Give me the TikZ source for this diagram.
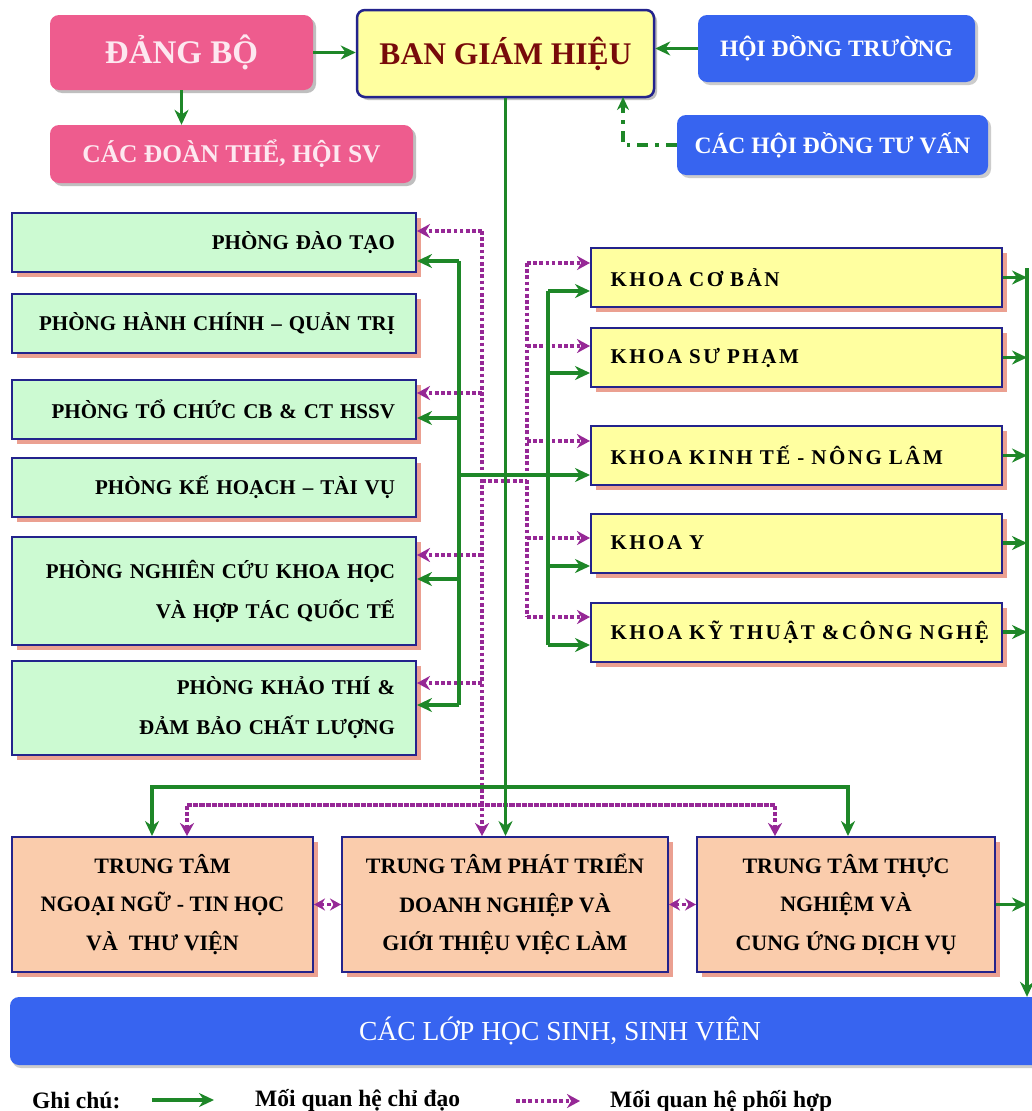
\documentclass[tikz,border=0pt]{standalone}
\usepackage{fontspec}
\setmainfont{Liberation Serif}
\usetikzlibrary{arrows.meta,shadows,calc}
\definecolor{gr}{RGB}{30,135,40}
\definecolor{pk}{RGB}{150,40,150}
\definecolor{phfill}{RGB}{204,250,210}
\definecolor{khfill}{RGB}{255,255,160}
\definecolor{ttfill}{RGB}{250,204,172}
\definecolor{bdr}{RGB}{35,35,140}
\definecolor{shd}{RGB}{235,160,145}
\definecolor{pinkbox}{RGB}{238,92,142}
\definecolor{pinktxt}{RGB}{253,232,240}
\definecolor{bluebox}{RGB}{55,100,240}
\definecolor{dred}{RGB}{120,10,10}
\begin{document}
\begin{tikzpicture}[x=1pt,y=-1pt,
  box/.style={draw=bdr, line width=2pt, inner sep=0pt,
    general shadow={fill=shd, shadow xshift=5pt, shadow yshift=-5pt}},
  phong/.style={box, fill=phfill, minimum width=404pt, text width=362pt, align=right,
    font=\bfseries\fontsize{21}{40}\selectfont},
  khoa/.style={box, fill=khfill, minimum width=411pt, minimum height=59pt, text width=372pt, align=left,
    font=\bfseries\fontsize{21}{21}\selectfont\addfontfeature{LetterSpace=12}},
  ttbox/.style={box, fill=ttfill, minimum height=135pt, align=center,
    font=\bfseries\fontsize{22}{38.5}\selectfont},
  pinkb/.style={fill=pinkbox, rounded corners=9pt, text=pinktxt, inner sep=0pt,
    general shadow={fill=black!25, shadow xshift=3pt, shadow yshift=-3pt}},
  blueb/.style={fill=bluebox, rounded corners=9pt, text=white, inner sep=0pt,
    font=\bfseries\fontsize{23.5}{23.5}\selectfont,
    general shadow={fill=black!20, shadow xshift=3pt, shadow yshift=-3pt}},
  gline/.style={draw=gr, line width=3.6pt},
  garr/.style={gline, -{Stealth[length=15pt,width=14pt]}},
  pline/.style={draw=pk, line width=3.6pt, dash pattern=on 3.6pt off 2.6pt},
  parr/.style={pline, -{Stealth[length=13pt,width=14pt]}},
  pdbl/.style={pline, {Stealth[length=11pt,width=12pt]}-{Stealth[length=11pt,width=12pt]}},
  ddash/.style={draw=gr, line width=3.6pt, dash pattern=on 11pt off 7pt on 3.6pt off 7pt, -{Stealth[length=13pt,width=12pt]}},
  legtxt/.style={anchor=west, inner sep=0pt, font=\bfseries\fontsize{23.5}{23.5}\selectfont}
]
\useasboundingbox (0,0) rectangle (1032,1111);
\fill[white] (0,0) rectangle (1032,1111);

% top
\node[pinkb, minimum width=263pt, minimum height=75pt, font=\bfseries\fontsize{33}{33}\selectfont] (dang) at (181.5,52.5) {ĐẢNG BỘ};
\node[pinkb, minimum width=363pt, minimum height=58pt, font=\bfseries\fontsize{25.5}{25.5}\selectfont] (doan) at (231.5,154) {CÁC ĐOÀN THỂ, HỘI SV};
\node[draw=bdr, line width=2.5pt, fill=khfill, rounded corners=8pt, minimum width=297pt, minimum height=87pt, inner sep=0pt, text=dred,
  font=\bfseries\fontsize{31.5}{31.5}\selectfont,
  general shadow={fill=black!25, shadow xshift=3pt, shadow yshift=-3pt}] (bgh) at (505.5,53.5) {BAN GIÁM HIỆU};
\node[blueb, minimum width=277pt, minimum height=67pt] (hdt) at (836.5,48.5) {HỘI ĐỒNG TRƯỜNG};
\node[blueb, minimum width=311pt, minimum height=60pt] (hdtv) at (832.5,145) {CÁC HỘI ĐỒNG TƯ VẤN};

% phong
\node[phong, minimum height=59pt] (p1) at (214,242.5) {PHÒNG ĐÀO TẠO};
\node[phong, minimum height=59pt] (p2) at (214,323.5) {PHÒNG HÀNH CHÍNH – QUẢN TRỊ};
\node[phong, minimum height=59pt] (p3) at (214,409.5) {PHÒNG TỔ CHỨC CB \& CT HSSV};
\node[phong, minimum height=59pt] (p4) at (214,487.5) {PHÒNG KẾ HOẠCH – TÀI VỤ};
\node[phong, minimum height=108pt] (p5) at (214,591) {PHÒNG NGHIÊN CỨU KHOA HỌC\\VÀ HỢP TÁC QUỐC TẾ};
\node[phong, minimum height=94pt] (p6) at (214,708) {PHÒNG KHẢO THÍ \&\\ĐẢM BẢO CHẤT LƯỢNG};

% khoa
\node[khoa] (k1) at (796.5,277.5) {\mbox{KHOA CƠ BẢN}};
\node[khoa] (k2) at (796.5,357.5) {\mbox{KHOA SƯ PHẠM}};
\node[khoa] (k3) at (796.5,455.5) {\mbox{KHOA KINH TẾ - NÔNG LÂM}};
\node[khoa] (k4) at (796.5,543) {\mbox{KHOA Y}};
\node[khoa] (k5) at (796.5,632) {\mbox{KHOA KỸ THUẬT \&CÔNG NGHỆ}};

% trung tam
\node[ttbox, minimum width=301pt] (t1) at (162.5,904.5) {TRUNG TÂM\\NGOẠI NGỮ - TIN HỌC\\VÀ \ THƯ VIỆN};
\node[ttbox, minimum width=326pt] (t2) at (505,904.5) {TRUNG TÂM PHÁT TRIỂN\\DOANH NGHIỆP VÀ\\GIỚI THIỆU VIỆC LÀM};
\node[ttbox, minimum width=298pt] (t3) at (846,904.5) {TRUNG TÂM THỰC\\NGHIỆM VÀ\\CUNG ỨNG DỊCH VỤ};

% bar
\node[fill=bluebox, rounded corners=9pt, minimum width=1100pt, minimum height=68pt, inner sep=0pt, text=white,
  font=\fontsize{27.5}{27.5}\selectfont,
  general shadow={fill=black!20, shadow xshift=2pt, shadow yshift=-3pt}] (bar) at (560,1031) {CÁC LỚP HỌC SINH, SINH VIÊN};

% top connectors
\draw[garr] (dang.east) -- (dang.east -| bgh.west);
\draw[garr] (dang.south) -- (dang.south |- doan.north);
\draw[garr] (hdt.west) -- (hdt.west -| bgh.east);
\coordinate (cv) at (623,97);
\draw[ddash] (hdtv.west) -| (cv);

% pink left trunk
\coordinate (pL1) at (482,231);
\coordinate (pL3) at (482,393);
\coordinate (pL5) at (482,555);
\coordinate (pL6) at (482,683);
\coordinate (pLx) at (482,481);
\draw[parr] (pL1) -- (pL1 |- t2.north);
\draw[parr] (pL1) -- (pL1 -| p1.east);
\draw[parr] (pL3) -- (pL3 -| p3.east);
\draw[parr] (pL5) -- (pL5 -| p5.east);
\draw[parr] (pL6) -- (pL6 -| p6.east);

% pink right trunk
\coordinate (pR1) at (527,263);
\coordinate (pR2) at (527,346);
\coordinate (pR3) at (527,441);
\coordinate (pR4) at (527,538);
\coordinate (pR5) at (527,617);
\coordinate (pRx) at (527,481);
\draw[pline] (pR1) -- (pR5);
\draw[pline] (pLx) -- (pRx);
\draw[parr] (pR1) -- (pR1 -| k1.west);
\draw[parr] (pR2) -- (pR2 -| k2.west);
\draw[parr] (pR3) -- (pR3 -| k3.west);
\draw[parr] (pR4) -- (pR4 -| k4.west);
\draw[parr] (pR5) -- (pR5 -| k5.west);

% green left trunk
\coordinate (gL1) at (459,261);
\coordinate (gL3) at (459,418);
\coordinate (gL5) at (459,579);
\coordinate (gL6) at (459,705);
\coordinate (gLx) at (459,475);
\draw[gline] (gL1) -- (gL6);
\draw[garr] (gL1) -- (gL1 -| p1.east);
\draw[garr] (gL3) -- (gL3 -| p3.east);
\draw[garr] (gL5) -- (gL5 -| p5.east);
\draw[garr] (gL6) -- (gL6 -| p6.east);
\draw[garr] (gLx) -- (gLx -| k3.west);

% green right trunk
\coordinate (gR1) at (548,291);
\coordinate (gR2) at (548,373);
\coordinate (gR4) at (548,566);
\coordinate (gR5) at (548,645);
\draw[gline] (gR1) -- (gR5);
\draw[garr] (gR1) -- (gR1 -| k1.west);
\draw[garr] (gR2) -- (gR2 -| k2.west);
\draw[garr] (gR4) -- (gR4 -| k4.west);
\draw[garr] (gR5) -- (gR5 -| k5.west);

% bottom distribution
\coordinate (gB1) at (152,787);
\coordinate (gB2) at (848,787);
\draw[garr] (gB2) -- (gB1) -- (gB1 |- t1.north);
\draw[garr] (gB1) -- (gB2) -- (gB2 |- t3.north);
\coordinate (pB1) at (187,805);
\coordinate (pB2) at (775,805);
\draw[parr] (pB2) -- (pB1) -- (pB1 |- t1.north);
\draw[parr] (pB1) -- (pB2) -- (pB2 |- t3.north);

% central trunk
\draw[garr] (bgh.south) -- (bgh.south |- t2.north);

% between centres
\draw[pdbl] (t1.east) -- (t2.west);
\draw[pdbl] (t2.east) -- (t3.west);

% right trunk
\coordinate (rT) at (1027,268);
\draw[garr] (rT) -- (rT |- bar.north);
\draw[garr] (k1.east) -- (k1.east -| rT);
\draw[garr] (k2.east) -- (k2.east -| rT);
\draw[garr] (k3.east) -- (k3.east -| rT);
\draw[garr] (k4.east) -- (k4.east -| rT);
\draw[garr] (k5.east) -- (k5.east -| rT);
\draw[garr] (t3.east) -- (t3.east -| rT);

% legend
\node[legtxt] (gc) at (32,1100) {Ghi chú:};
\coordinate (la1) at (152,1100);
\coordinate (la2) at (214,1100);
\draw[garr] (la1) -- (la2);
\node[legtxt] (lt1) at (255,1100) {Mối quan hệ chỉ đạo};
\coordinate (lb1) at (516,1101);
\coordinate (lb2) at (580,1101);
\draw[parr] (lb1) -- (lb2);
\node[legtxt] (lt2) at (610,1101) {Mối quan hệ phối hợp};
\end{tikzpicture}
\end{document}
